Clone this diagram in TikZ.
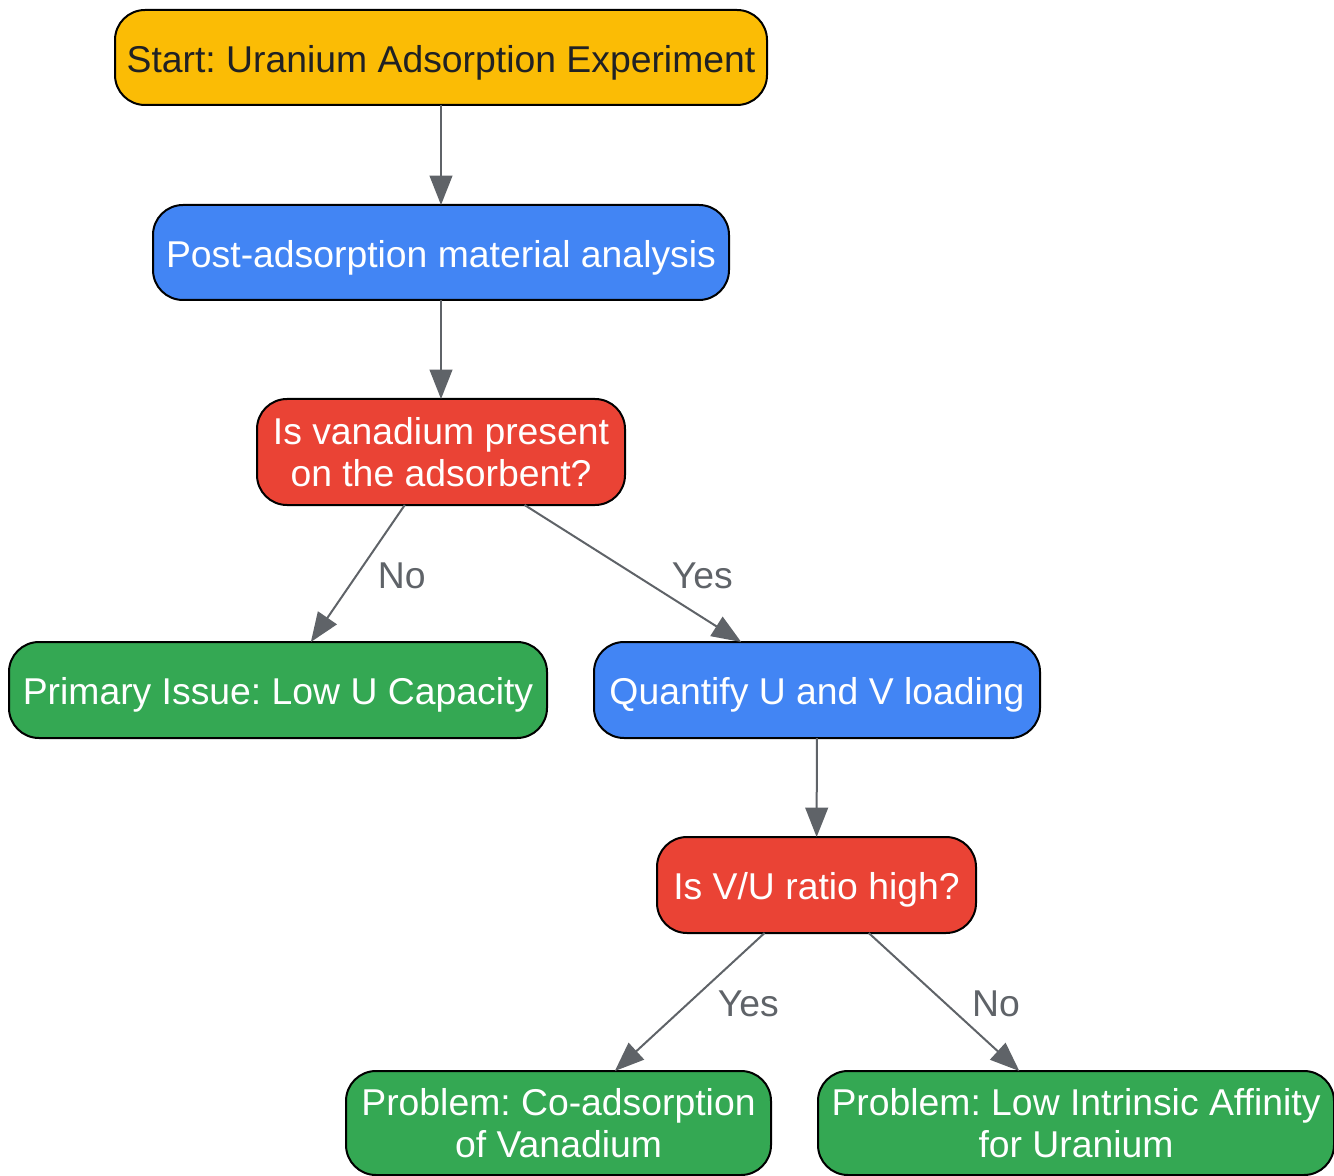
\documentclass[tikz,border=0pt]{standalone}
\usepackage{fontspec}
\setmainfont{Liberation Sans}
\usetikzlibrary{arrows.meta}
\definecolor{cyellow}{HTML}{FBBC05}
\definecolor{cblue}{HTML}{4285F4}
\definecolor{cred}{HTML}{EA4335}
\definecolor{cgreen}{HTML}{34A853}
\definecolor{cgray}{HTML}{5F6368}
\definecolor{cdark}{HTML}{202124}
\frenchspacing
\begin{document}
\begin{tikzpicture}[x=0.75pt,y=-0.75pt,
  box/.style={draw=black, line width=1.5pt, rounded corners=22.5pt, align=center,
    font=\fontsize{28}{31}\selectfont\frenchspacing, text=white, inner sep=0pt, outer sep=0pt},
  oneline/.style={text height=22pt, text depth=0pt},
  conn/.style={draw=cgray, line width=1.5pt, -{Triangle[length=22pt,width=17pt]}},
  lbl/.style={text=cgray, font=\fontsize{28}{31}\selectfont, inner sep=0pt, yshift=-1.5pt}]
\useasboundingbox (0,0) rectangle (1334,1176);
\node[box, oneline, fill=cyellow, text=cdark, minimum width=489pt, minimum height=71.25pt] (start) at (441,57.5) {Start: Uranium Adsorption Experiment};
\node[box, oneline, fill=cblue, minimum width=432pt, minimum height=71.25pt] (post) at (441,252.5) {Post-adsorption material analysis};
\node[box, fill=cred, minimum width=276pt, minimum height=79.5pt] (van) at (441,452) {Is vanadium present\\on the adsorbent?};
\node[box, oneline, fill=cgreen, minimum width=403.5pt, minimum height=72pt] (prim) at (278,690) {Primary Issue: Low U Capacity};
\node[box, oneline, fill=cblue, minimum width=334.5pt, minimum height=72pt] (quant) at (817,690) {Quantify U and V loading};
\node[box, oneline, fill=cred, minimum width=239.25pt, minimum height=72pt] (vu) at (816.5,885) {Is V/U ratio high?};
\node[box, fill=cgreen, minimum width=318.75pt, minimum height=78pt] (co) at (558.5,1123) {Problem: Co-adsorption\\of Vanadium};
\node[box, fill=cgreen, minimum width=387pt, minimum height=78pt] (low) at (1076,1123) {Problem: Low Intrinsic Affinity\\for Uranium};
\draw[conn] (start) -- (post);
\draw[conn] (post) -- (van);
\draw[conn] (van) -- node[lbl, pos=0.5, xshift=33pt] {No} (prim);
\draw[conn] (van) -- node[lbl, pos=0.5, xshift=52pt] {Yes} (quant);
\draw[conn] (quant) -- (vu);
\draw[conn] (vu) -- node[lbl, pos=0.5, xshift=44pt] {Yes} (co);
\draw[conn] (vu) -- node[lbl, pos=0.5, xshift=39pt] {No} (low);
\end{tikzpicture}
\end{document}
